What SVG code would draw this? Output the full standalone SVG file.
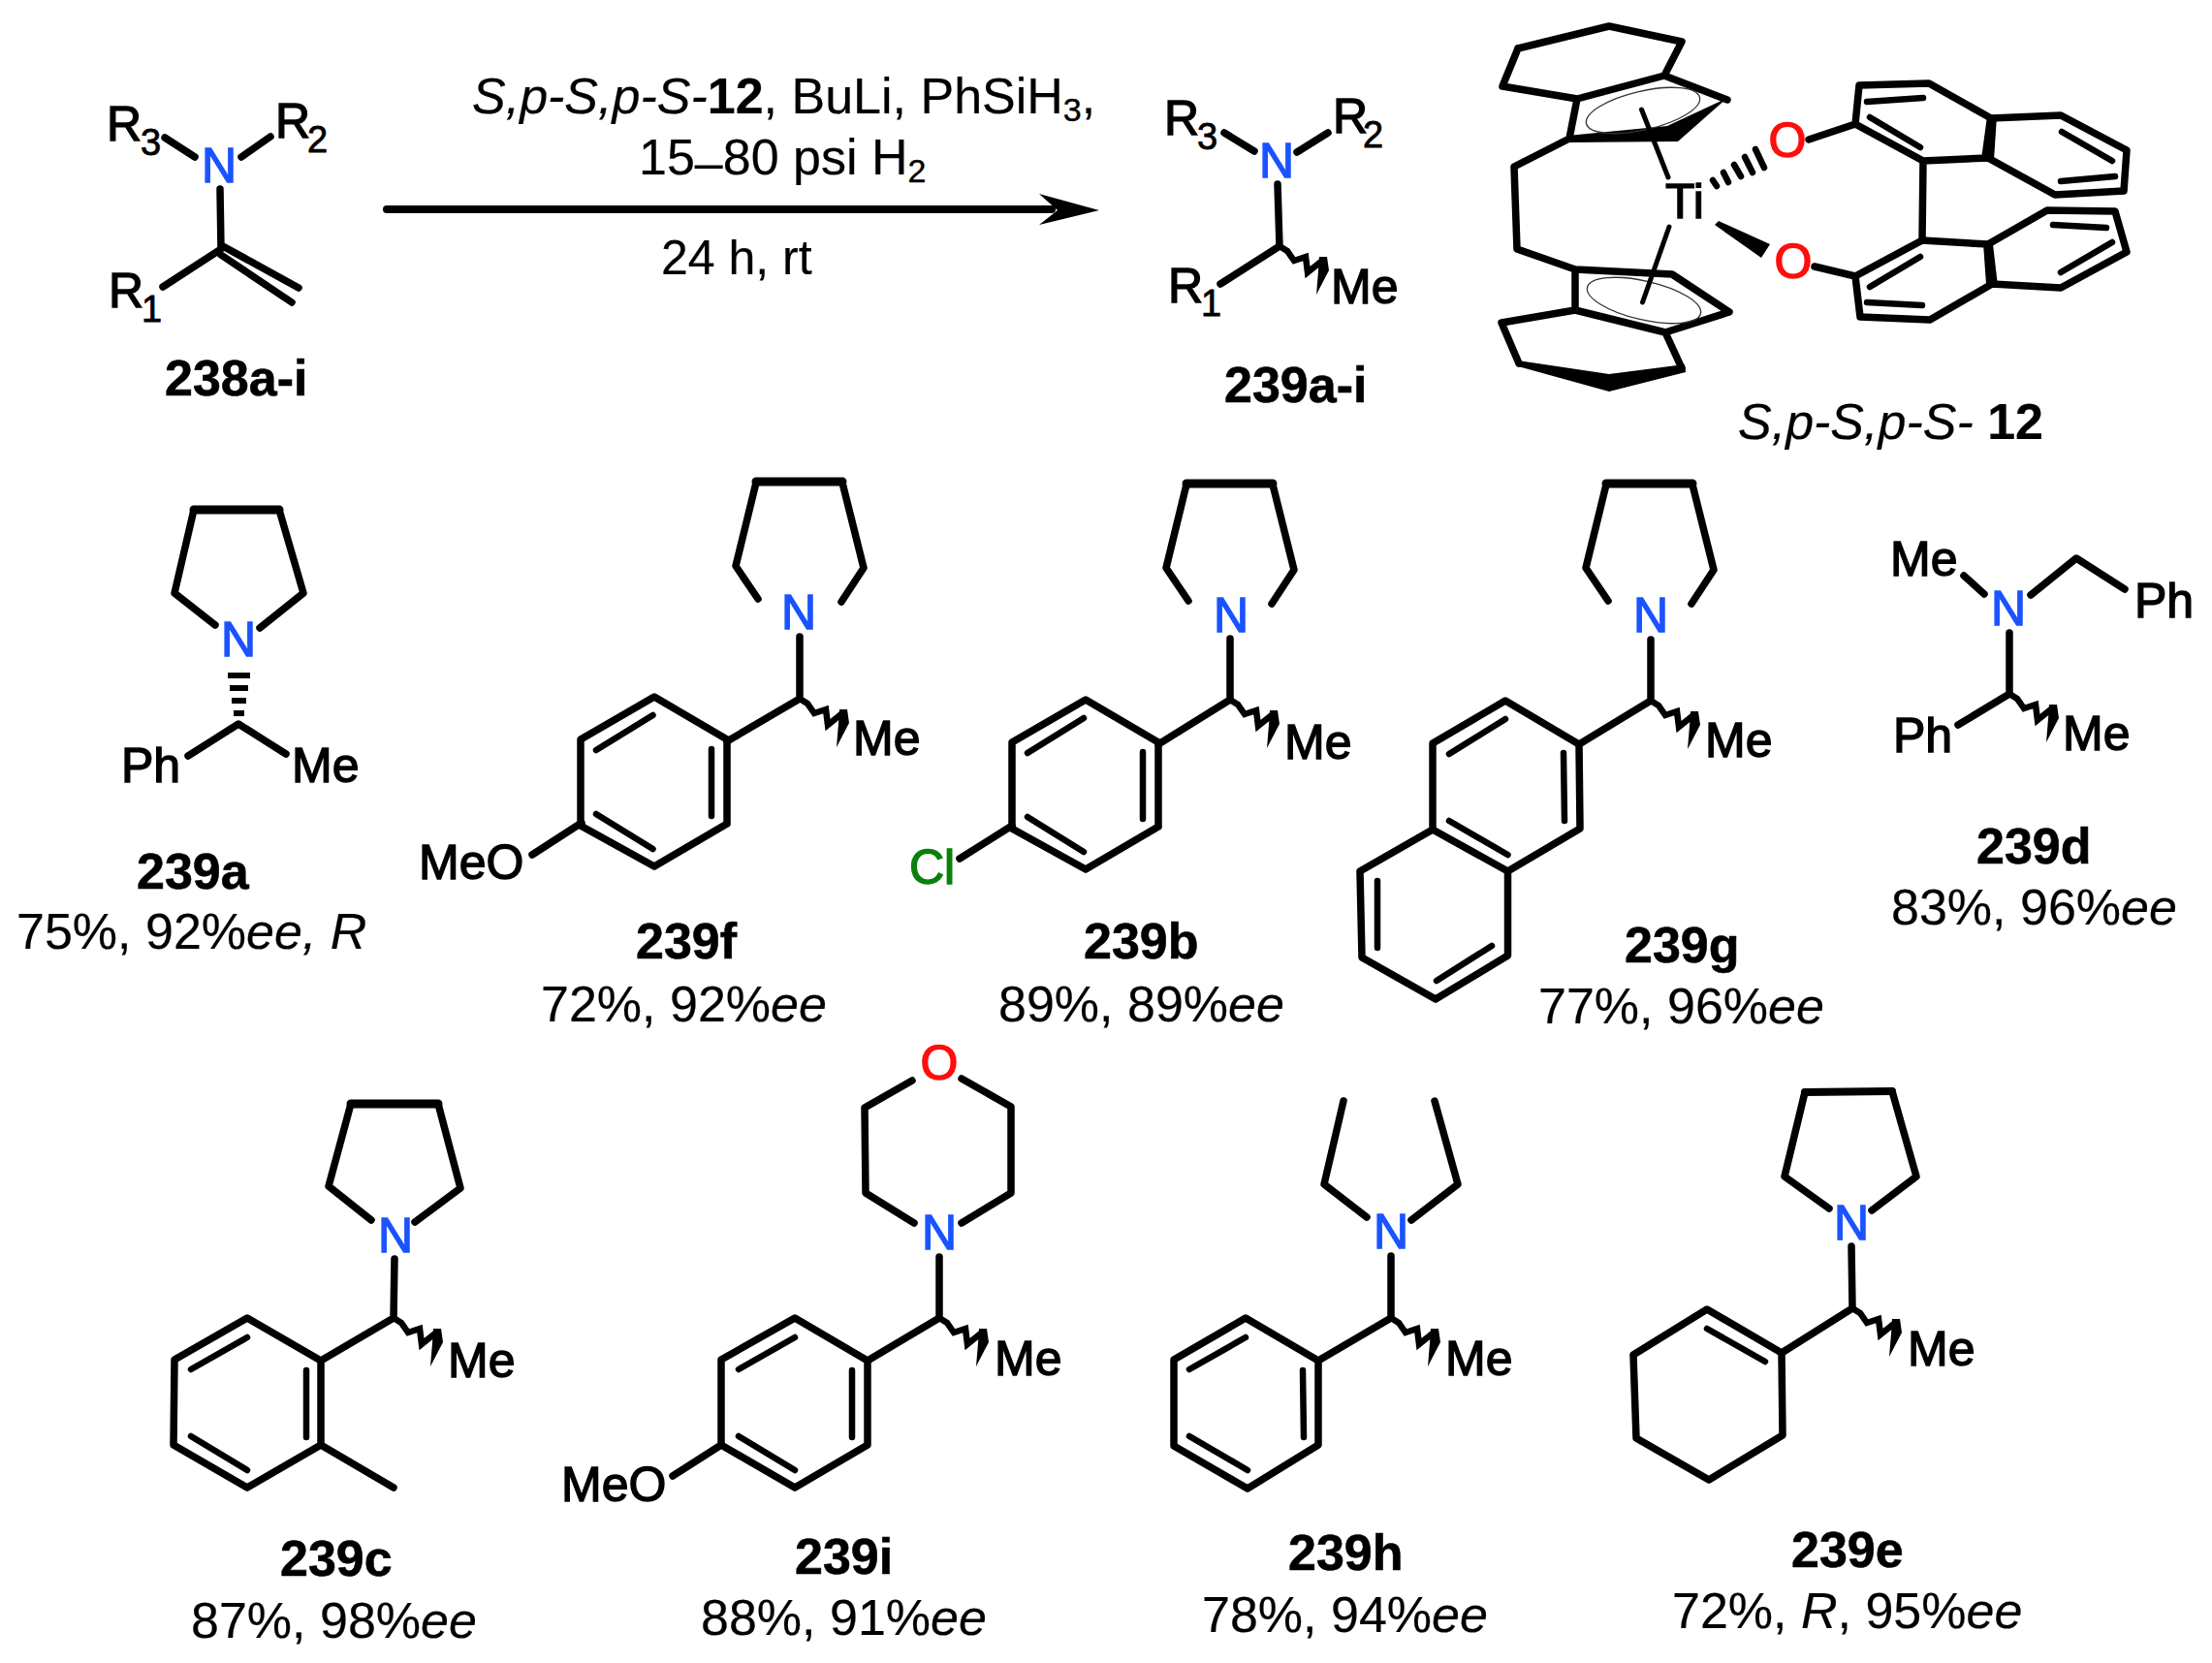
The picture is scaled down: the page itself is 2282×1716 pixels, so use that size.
<svg xmlns="http://www.w3.org/2000/svg" xmlns:xlink="http://www.w3.org/1999/xlink" width="2282" height="1716" viewBox="0 0 2282 1716">
<style>
text{font-family:"Liberation Sans",Arial,sans-serif;font-size:50px;fill:#000;stroke:#000;stroke-width:1.400}
.b{fill:none;stroke:#000;stroke-width:7.5;stroke-linecap:round;stroke-linejoin:round}
.d{fill:none;stroke:#000;stroke-width:6.500;stroke-linecap:round}
.th{fill:none;stroke:#000;stroke-width:5;stroke-linecap:round}
.e{fill:none;stroke:#333;stroke-width:1.300}
.f{fill:#000}
.n{fill:#1a53ff;stroke:#1a53ff;text-anchor:middle}
.o{fill:#ff0d0d;stroke:#ff0d0d;stroke-width:1.500;text-anchor:middle}
.cl{fill:#0a800a;stroke:#0a800a}
.s{font-size:34px;stroke-width:.4px}
.l{font-size:38px;stroke-width:.8px}
.c{font-weight:bold;font-size:52px;stroke-width:.6px}
.y{font-size:52px;stroke-width:.2px}
.r{font-size:52px;stroke-width:.2px}
.i{font-style:italic}
.bo{font-weight:bold}
</style>
<defs>
<g id="wave"><path class="b" style="stroke-width:6.500;stroke-linejoin:miter;stroke-linecap:butt" d="M0,0L8,5L15,15L27,11L29,27L44,15"/><path class="f" d="M41,11L49,11L51,25L38,50L40,26Z"/></g>
<g id="pyr"><path class="b" d="M-43,-35L-66,-69L-45,-155M43,-32L66,-67L44,-155"/><path class="b" style="stroke-width:9" d="M-45,-156L44,-156"/></g>
<g id="ar"><path class="b" d="M0,0L-75,44L-151,2L-151,-87L-75,-131L0,-87L0,0"/></g>
</defs>

<g id="connectors">
<path class="b" style="stroke-width:8" d="M399,216L1085,216"/>
<path class="f" d="M1134,217L1072,200L1091,217L1072,232Z"/>
</g>

<g id="compound-238">
<path class="b" d="M170,142L201,162M279,141L249,162M227,195L228,257L168,296M228,253L308,297M228,263L301,312"/>
<text x="110" y="145">R</text><text class="l" x="145" y="160">3</text>
<text x="284" y="142">R</text><text class="l" x="317" y="157">2</text>
<text class="n" x="226" y="188">N</text>
<text x="112" y="317">R</text><text class="l" x="146" y="332">1</text>
<text class="c" x="170" y="408">238a-i</text>
</g>

<g id="conditions">
<text class="r" x="487" y="117"><tspan class="i">S,p-S,p-S-</tspan><tspan class="bo">12</tspan>, BuLi, PhSiH<tspan class="s" dy="8">3</tspan><tspan dy="-8">,</tspan></text>
<text class="r" x="659" y="180">15<tspan dy="5">–</tspan><tspan dy="-5">80 psi H</tspan><tspan class="s" dy="8">2</tspan></text>
<text class="r" style="font-size:50px" x="682" y="283">24 h, rt</text>
</g>

<g id="compound-239">
<path class="b" d="M1263,137L1294,156M1370,137L1338,157M1318,190L1320,254L1259,293"/>
<use xlink:href="#wave" href="#wave" x="1320" y="254"/>
<text x="1201" y="139">R</text><text class="l" x="1235" y="154">3</text>
<text x="1375" y="137">R</text><text class="l" x="1406" y="152">2</text>
<text class="n" x="1317" y="183">N</text>
<text x="1205" y="312">R</text><text class="l" x="1239" y="326">1</text>
<text x="1373" y="313">Me</text>
<text class="c" x="1263" y="415">239a-i</text>
</g>

<g id="catalyst-12">
<path class="b" d="M1566,50L1660,27L1735,43L1717,78L1627,102L1550,89L1566,50M1627,102L1619,143L1562,172L1565,257L1625,278L1625,320L1549,333L1567,375M1625,278L1725,283L1784,322L1718,343L1625,320M1718,343L1735,380M1717,78L1782,103"/>
<path class="f" d="M1617,140L1720,130L1782,101L1731,146L1617,147Z"/>
<path class="f" d="M1566,372L1660,386L1738,376L1739,384L1660,404L1566,378Z"/>
<ellipse class="e" cx="1695" cy="114" rx="60" ry="20" transform="rotate(-13 1695 114)"/>
<ellipse class="e" cx="1696" cy="310" rx="60" ry="20" transform="rotate(13 1696 310)"/>
<path class="th" d="M1693.500,113L1721,183M1722,234L1694.500,312"/>
<text x="1738" y="225" style="text-anchor:middle">Ti</text>
<path class="b" style="stroke-width:6.500" d="M1767,186L1771,192M1778,178L1783,188M1789,170L1796,182M1800,162L1808,178M1811,154L1820,173"/>
<path class="f" d="M1769,232L1773,228L1826,252L1817,266Z"/>
<text class="o" x="1844" y="162">O</text>
<text class="o" x="1850" y="287">O</text>
<path class="b" d="M1866,144L1914,128L1918,88L1990,86L2054,122L2126,119L2194,155L2191,197L2120,201L2051,163L1984,166L1914,128M1984,166L1983,248M1872,275L1914,285L1919,327L1991,330L2055,293L2126,297L2194,260L2182,218L2112,217L2051,252L1983,248L1914,285"/>
<path class="f" d="M2050,120L2060,120L2057,165L2044,164Z"/>
<path class="f" d="M2046,251L2056,252L2061,295L2049,293Z"/>
<path class="d" d="M1926,105L1984,101M1929,121L1981,152M2127,136L2179,166M2126,187L2182,182M1981,265L1929,296M1926,312L1983,315M2118,232L2173,235M2179,250L2126,281"/>
<text x="1793" y="453" class="y"><tspan class="i">S,p-S,p-S-</tspan> <tspan class="bo">12</tspan></text>
</g>

<g id="compound-239a">
<path class="b" d="M222,645L180,612L200,526M268,648L313,612L288,526M194,780L246,747L295,778"/>
<path class="b" style="stroke-width:9" d="M200,526L288,526"/>
<path class="b" style="stroke-width:6;stroke-linecap:butt" d="M241,736H252M239,723H254M237,710H256M235,697H258"/>
<text class="n" x="246" y="677">N</text>
<text x="125" y="807">Ph</text><text x="301" y="807">Me</text>
<text class="c" x="141" y="917">239a</text>
<text class="y" x="17" y="979">75%, 92%<tspan class="i">ee, R</tspan></text>
</g>

<g id="compound-239f">
<use xlink:href="#pyr" href="#pyr" x="825" y="653"/>
<path class="b" d="M825,657L825,721L750,765"/>
<use xlink:href="#wave" href="#wave" x="825" y="721"/>
<use xlink:href="#ar" href="#ar" x="750" y="850" />
<path class="d" d="M673.500,738L615,774M734,773L734,842M615,840L673.500,876"/>
<path class="b" d="M600,849L549,882"/>
<text class="n" x="824" y="649">N</text>
<text x="432" y="907">MeO</text><text x="880" y="779">Me</text>
<text class="c" x="656" y="989">239f</text>
<text class="y" x="558" y="1054">72%, 92%<tspan class="i">ee</tspan></text>
</g>

<g id="compound-239b">
<use xlink:href="#pyr" href="#pyr" x="1269" y="655"/>
<path class="b" d="M1269,659L1269,722L1195,768"/>
<use xlink:href="#wave" href="#wave" x="1269" y="722"/>
<use xlink:href="#ar" href="#ar" x="1195" y="853"/>
<path class="d" d="M1118,741L1060,777M1179,776L1179,845M1060,843L1118,879"/>
<path class="b" d="M1044,852L990,886"/>
<text class="n" x="1270" y="652">N</text>
<text class="cl" x="938" y="912">Cl</text><text x="1325" y="783">Me</text>
<text class="c" x="1118" y="989">239b</text>
<text class="y" x="1030" y="1054">89%, 89%<tspan class="i">ee</tspan></text>
</g>

<g id="compound-239g">
<use xlink:href="#pyr" href="#pyr" x="1702" y="655"/>
<path class="b" d="M1703,660L1703,723L1629,768L1553,723L1478,767L1478,856L1555.500,899L1630,855L1629,768M1478,856L1403,899L1405,988L1481,1031L1555.500,986L1555.500,899"/>
<use xlink:href="#wave" href="#wave" x="1703" y="723"/>
<path class="d" d="M1553,742L1495,778M1613,777L1614,847M1495,847L1555.500,882M1421,909L1421,978M1482,1012L1539,976"/>
<text class="n" x="1703" y="652">N</text>
<text x="1759" y="781">Me</text>
<text class="c" x="1676" y="993">239g</text>
<text class="y" x="1587" y="1056">77%, 96%<tspan class="i">ee</tspan></text>
</g>

<g id="compound-239d">
<path class="b" d="M2026,594L2047,613M2095,614L2142,576L2192,608M2073,653L2073,716L2020,748"/>
<use xlink:href="#wave" href="#wave" x="2073" y="716"/>
<text class="n" x="2072" y="645">N</text>
<text x="1950" y="594">Me</text><text x="2202" y="637">Ph</text>
<text x="1953" y="776">Ph</text><text x="2128" y="774">Me</text>
<text class="c" x="2039" y="891">239d</text>
<text class="y" x="1951" y="954">83%, 96%<tspan class="i">ee</tspan></text>
</g>

<g id="compound-239c">
<path class="b" d="M383,1259L339,1224L362,1139M428,1261L475,1226L452,1139M407,1299L406,1360L331,1404L255,1360L180,1403L179,1491L255,1535L331,1491L331,1404M331,1491L406,1535"/>
<path class="b" style="stroke-width:9" d="M362,1139L452,1139"/>
<use xlink:href="#wave" href="#wave" x="406" y="1360"/>
<path class="d" d="M255,1380L197,1413M316,1414L316,1483M197,1482L255,1517"/>
<text class="n" x="408" y="1292">N</text>
<text x="462" y="1421">Me</text>
<text class="c" x="289" y="1626">239c</text>
<text class="y" x="197" y="1690">87%, 98%<tspan class="i">ee</tspan></text>
</g>

<g id="compound-239i">
<path class="b" d="M941,1115L892,1143L893,1231L943,1262M992,1113L1043,1142L1043,1231L992,1262M969,1297L969,1360L895,1404L820,1360L744,1403L744,1491L820,1535L895,1491L895,1404M744,1491L694,1523"/>
<use xlink:href="#wave" href="#wave" x="969" y="1360"/>
<path class="d" d="M820,1380L762,1413M879,1414L879,1483M762,1482L820,1517"/>
<text class="o" x="969" y="1114">O</text>
<text class="n" x="969" y="1289">N</text>
<text x="579" y="1549">MeO</text><text x="1026" y="1419">Me</text>
<text class="c" x="820" y="1624">239i</text>
<text class="y" x="723" y="1687">88%, 91%<tspan class="i">ee</tspan></text>
</g>

<g id="compound-239h">
<path class="b" d="M1386,1136L1366,1222L1410,1256M1480,1136L1504,1222L1456,1259M1435,1296L1435,1360L1360,1404L1285,1360L1211,1403L1211,1492L1287,1536L1360,1491L1360,1404"/>
<use xlink:href="#wave" href="#wave" x="1435" y="1360"/>
<path class="d" d="M1285,1380L1227,1413M1344,1414L1345,1483M1227,1482L1287,1517"/>
<text class="n" x="1435" y="1288">N</text>
<text x="1491" y="1419">Me</text>
<text class="c" x="1329" y="1620">239h</text>
<text class="y" x="1240" y="1684">78%, 94%<tspan class="i">ee</tspan></text>
</g>

<g id="compound-239e">
<path class="b" d="M1887,1247L1841,1214L1862,1127M1931,1249L1977,1214L1952,1126M1910,1286L1911,1350L1838,1396L1761,1351L1685,1398L1688,1484L1763,1527L1839,1481L1838,1396"/>
<path class="b" style="stroke-width:8" d="M1862,1127L1952,1126"/>
<use xlink:href="#wave" href="#wave" x="1911" y="1350"/>
<path class="d" d="M1761,1371L1821,1405"/>
<text class="n" x="1910" y="1279">N</text>
<text x="1968" y="1409">Me</text>
<text class="c" x="1848" y="1617">239e</text>
<text class="y" x="1725" y="1680">72%, <tspan class="i">R</tspan>, 95%<tspan class="i">ee</tspan></text>
</g>
</svg>
